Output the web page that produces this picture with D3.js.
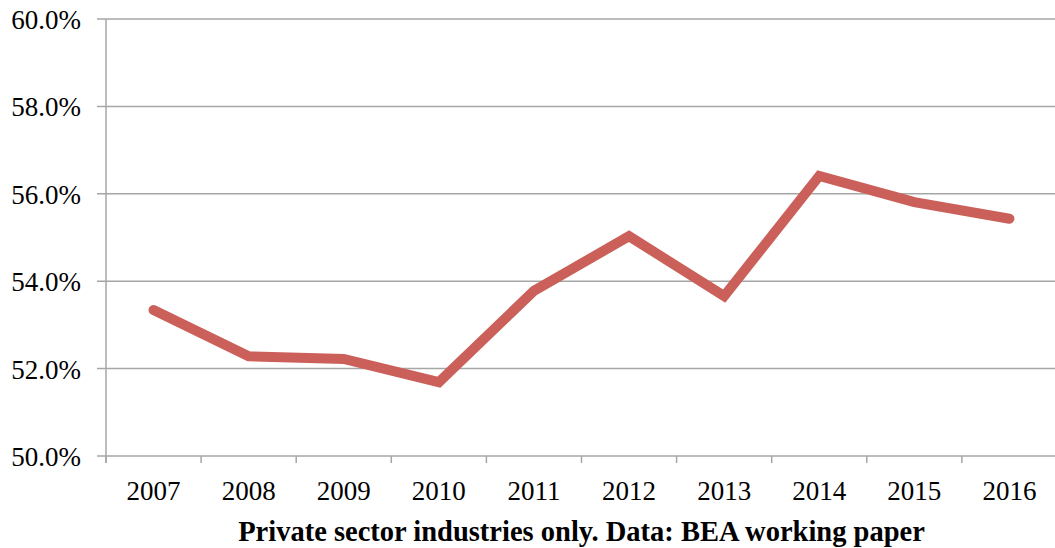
<!DOCTYPE html>
<html><head><meta charset="utf-8">
<script src="https://cdn.jsdelivr.net/npm/d3@7"></script>
<style>body{margin:0;background:#fff}svg{display:block}</style>
</head><body>
<svg id="c" width="1055" height="548"></svg>
<script>
const years = ["2007","2008","2009","2010","2011","2012","2013","2014","2015","2016"];
const shares = [53.34, 52.28, 52.22, 51.69, 53.78, 55.03, 53.66, 56.41, 55.81, 55.43];
const yTicks = [50, 52, 54, 56, 58, 60];
const xTitle = "Private sector industries only. Data: BEA working paper";

const svg = d3.select("#c");
const m = {left:106, right:1057, top:19, bottom:456};
const x = d3.scaleBand().domain(years).range([m.left, m.right]);
const y = d3.scaleLinear().domain([50, 60]).range([m.bottom, m.top]);
const font = "'Liberation Serif', serif";

// gridlines
svg.append("g").selectAll("line").data(yTicks).join("line")
  .attr("x1", m.left - 9).attr("x2", 1055)
  .attr("y1", d => y(d)).attr("y2", d => y(d))
  .attr("stroke", "#a6a6a6").attr("stroke-width", 1.5);

// y axis line
svg.append("line").attr("x1", m.left).attr("x2", m.left)
  .attr("y1", m.top).attr("y2", m.bottom + 7)
  .attr("stroke", "#a6a6a6").attr("stroke-width", 1.5);

// x ticks
const bounds = years.map(d => x(d)).concat([m.right]);
svg.append("g").selectAll("line").data(bounds).join("line")
  .attr("x1", d => d).attr("x2", d => d)
  .attr("y1", m.bottom).attr("y2", m.bottom + 7)
  .attr("stroke", "#a6a6a6").attr("stroke-width", 1.5);

// y labels
svg.append("g").selectAll("text").data(yTicks).join("text")
  .attr("x", 81).attr("y", d => y(d) + 10)
  .attr("text-anchor", "end").attr("font-family", font).attr("font-size", 27)
  .attr("fill", "#000").text(d => d3.format(".1f")(d) + "%");

// x labels
svg.append("g").selectAll("text").data(years).join("text")
  .attr("x", d => x(d) + x.bandwidth()/2).attr("y", 500)
  .attr("text-anchor", "middle").attr("font-family", font).attr("font-size", 27)
  .attr("fill", "#000").text(d => d);

// title
svg.append("text").attr("x", (m.left + m.right)/2).attr("y", 541)
  .attr("text-anchor", "middle").attr("font-family", font).attr("font-size", 28.5)
  .attr("font-weight", "bold").attr("fill", "#000").text(xTitle);

// line
const line = d3.line().x((d, i) => x(years[i]) + x.bandwidth()/2).y(d => y(d));
svg.append("path").datum(shares).attr("d", line)
  .attr("fill", "none").attr("stroke", "#cb605a").attr("stroke-width", 10)
  .attr("stroke-linecap", "round").attr("stroke-linejoin", "miter");
</script>
</body></html>
